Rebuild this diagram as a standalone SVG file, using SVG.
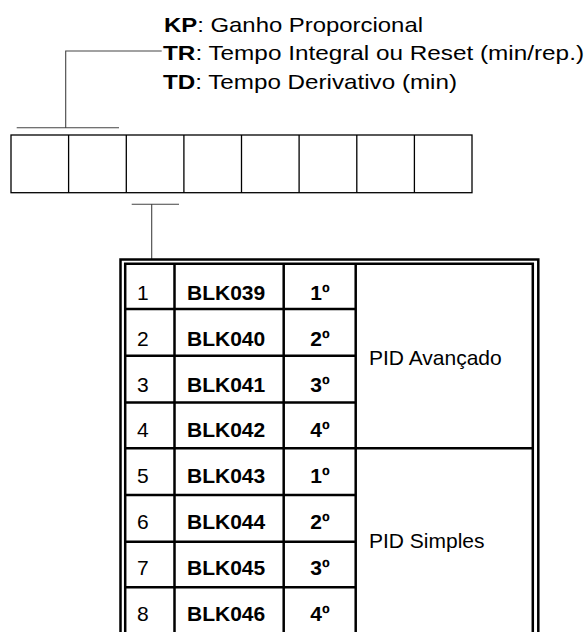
<svg xmlns="http://www.w3.org/2000/svg" width="585" height="632" viewBox="0 0 585 632">
<style>
.lbl{font-family:"Liberation Sans",Arial,sans-serif;font-size:21px;fill:#000}
.b{font-weight:bold}
.cell{fill:none;stroke:#000;stroke-width:1.3}
.br{fill:none;stroke:#444;stroke-width:1.1}
.g{stroke:#000;stroke-width:2.5;fill:none}
</style>
<rect width="585" height="632" fill="#fff"/>
<g id="legend">
<text class="lbl" x="164" y="31.5" textLength="259" lengthAdjust="spacingAndGlyphs"><tspan class="b">KP</tspan>: Ganho Proporcional</text>
<text class="lbl" x="163" y="60" textLength="421" lengthAdjust="spacingAndGlyphs"><tspan class="b">TR</tspan>: Tempo Integral ou Reset (min/rep.)</text>
<text class="lbl" x="163" y="89" textLength="294" lengthAdjust="spacingAndGlyphs"><tspan class="b">TD</tspan>: Tempo Derivativo (min)</text>
</g>
<g id="blocks">
<rect class="cell" x="11" y="135" width="461" height="57.7"/>
<path class="cell" d="M68.6 135V192.7M126.3 135V192.7M183.9 135V192.7M241.5 135V192.7M299.1 135V192.7M356.8 135V192.7M414.4 135V192.7"/>
</g>
<g id="connectors">
<path class="br" d="M16.7 127.7H119M65.7 127.7V51H161.7"/>
<path class="br" d="M131.7 204.3H179M151.7 204.3V259"/>
</g>
<g id="table">
<path class="g" d="M120.5 640V259.5H538.3V640"/>
<path class="g" d="M125.2 640V263.7H532.8V640"/>
<path class="g" d="M174.5 263.7V640M283.7 263.7V640M355.7 263.7V640"/>
<path class="g" d="M125.2 309H355.7M125.2 355.7H355.7M125.2 402.5H355.7M125.2 448.3H532.8M125.2 495H355.7M125.2 541.7H355.7M125.2 587.3H355.7M125.2 634H532.8"/>
<g class="lbl">
<text x="137" y="300">1</text>
<text x="137" y="345.5">2</text>
<text x="137" y="391.5">3</text>
<text x="137" y="437">4</text>
<text x="137" y="483">5</text>
<text x="137" y="529">6</text>
<text x="137" y="575">7</text>
<text x="137" y="621">8</text>
</g>
<g class="lbl b">
<text x="187" y="300">BLK039</text>
<text x="187" y="345.5">BLK040</text>
<text x="187" y="391.5">BLK041</text>
<text x="187" y="437">BLK042</text>
<text x="187" y="483">BLK043</text>
<text x="187" y="529">BLK044</text>
<text x="187" y="575">BLK045</text>
<text x="187" y="621">BLK046</text>
</g>
<g class="lbl b" text-anchor="middle">
<text x="320" y="300">1º</text>
<text x="320" y="345.5">2º</text>
<text x="320" y="391.5">3º</text>
<text x="320" y="437">4º</text>
<text x="320" y="483">1º</text>
<text x="320" y="529">2º</text>
<text x="320" y="575">3º</text>
<text x="320" y="621">4º</text>
</g>
<text class="lbl" x="369" y="365">PID Avançado</text>
<text class="lbl" x="369" y="548">PID Simples</text>
</g>
</svg>
